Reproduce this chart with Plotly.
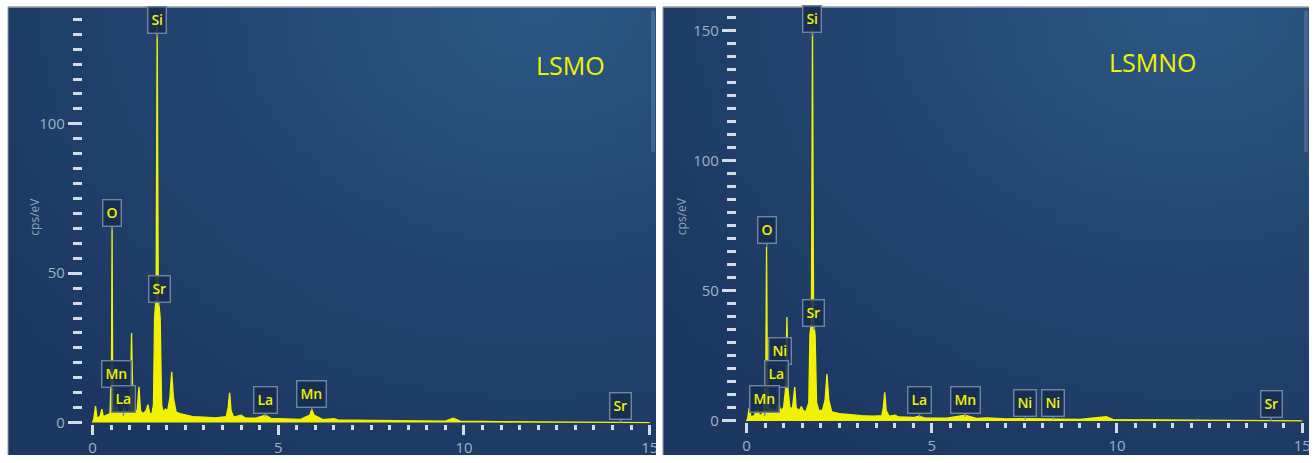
import base64, struct, zlib
import plotly.graph_objects as go

# ---------------- data ----------------
energy_lsmo = [0.00, 0.03, 0.08, 0.12, 0.20, 0.25, 0.29, 0.40, 0.47, 0.51, 0.525, 0.54, 0.58,
               0.64, 0.70, 0.78, 0.85, 0.92, 0.98, 1.02, 1.05, 1.08, 1.12, 1.20, 1.25, 1.29,
               1.36, 1.44, 1.49, 1.54, 1.60, 1.64, 1.67, 1.71, 1.74, 1.77, 1.82, 1.86, 1.90,
               1.96, 2.02, 2.08, 2.13, 2.18, 2.25, 2.35, 2.50, 2.70, 3.00, 3.30, 3.60, 3.65,
               3.69, 3.73, 3.80, 4.00, 4.10, 4.40, 4.65, 4.80, 5.20, 5.60, 5.85, 5.90, 5.96,
               6.20, 6.50, 6.60, 7.50, 8.60, 9.50, 9.71, 9.90, 11.0, 12.5, 14.0, 15.0]
counts_lsmo = [0.0, 1.0, 5.5, 1.5, 2.0, 4.5, 2.0, 2.5, 3.0, 20.0, 66.0, 20.0, 4.0,
               6.0, 3.5, 3.0, 5.0, 3.5, 4.0, 10.0, 30.0, 10.0, 4.0, 4.0, 12.0, 4.0,
               3.0, 4.0, 6.0, 3.0, 3.0, 6.0, 35.0, 42.0, 133.0, 42.0, 35.0, 6.0, 3.5,
               4.5, 4.0, 8.0, 17.0, 8.0, 3.5, 3.0, 2.5, 2.0, 1.8, 1.6, 2.0, 5.0,
               10.0, 4.0, 1.8, 2.5, 1.6, 1.5, 2.5, 1.4, 1.2, 1.1, 2.5, 4.5, 2.5,
               1.0, 1.3, 0.9, 0.7, 0.6, 0.5, 1.5, 0.5, 0.3, 0.2, 0.1, 0.0]

energy_lsmno = [0.00, 0.03, 0.07, 0.12, 0.20, 0.30, 0.35, 0.45, 0.52, 0.54, 0.56, 0.60, 0.66,
                0.72, 0.80, 0.86, 0.92, 1.00, 1.05, 1.09, 1.12, 1.17, 1.24, 1.30, 1.34, 1.42,
                1.48, 1.53, 1.60, 1.68, 1.71, 1.75, 1.78, 1.81, 1.85, 1.89, 1.95, 2.05, 2.12,
                2.17, 2.22, 2.30, 2.50, 2.80, 3.10, 3.40, 3.65, 3.69, 3.73, 3.77, 3.85, 4.02,
                4.10, 4.50, 4.65, 4.80, 5.40, 5.90, 6.20, 6.50, 7.00, 7.47, 8.26, 9.00, 9.71,
                9.90, 11.0, 12.5, 14.0, 15.0]
counts_lsmno = [0.0, 1.0, 5.0, 1.5, 2.0, 4.5, 2.0, 3.0, 20.0, 67.0, 20.0, 4.0, 5.0,
                4.0, 4.0, 7.0, 4.0, 5.0, 12.0, 40.0, 12.0, 5.0, 5.0, 13.0, 5.0, 4.0,
                5.5, 4.0, 3.5, 7.0, 33.0, 38.0, 151.0, 38.0, 33.0, 7.0, 4.0, 4.0, 8.0,
                18.0, 8.0, 3.5, 2.8, 2.3, 2.0, 1.8, 2.0, 5.0, 11.0, 4.0, 1.8, 2.2,
                1.5, 1.3, 1.8, 1.2, 1.1, 2.2, 1.0, 1.2, 0.8, 0.9, 0.7, 0.6, 1.6,
                0.5, 0.4, 0.2, 0.1, 0.0]

# element markers: name, energy (keV), value the marker points at (cps/eV)
labels_lsmo = ["Si", "O", "Sr", "Mn", "La", "La", "Mn", "Sr"]
label_e_lsmo = [1.74, 0.525, 1.80, 0.65, 0.83, 4.65, 5.90, 14.22]
label_v_lsmo = [129, 64.5, 39, 10.5, 2.3, 2.0, 4.0, 0.0]

labels_lsmno = ["Si", "O", "Sr", "Ni", "La", "Mn", "La", "Mn", "Ni", "Ni", "Sr"]
label_e_lsmno = [1.78, 0.55, 1.82, 0.89, 0.82, 0.49, 4.67, 5.90, 7.52, 8.28, 14.16]
label_v_lsmno = [148, 67, 35, 20.5, 11.5, 2.0, 1.6, 1.6, 0.5, 0.5, 0.0]

panel_titles = ["LSMO", "LSMNO"]
y_axis_title = "cps/eV"
x_ticks = [0, 5, 10, 15]
y_ticks_lsmo = [0, 50, 100]
y_ticks_lsmno = [0, 50, 100, 150]

# ---------------- style / layout ----------------
W, H = 1316, 463
YELLOW = "#f2f200"
TICKLBL = "#9fb1c7"
TICKCOL = "#d3dbe6"
BOXBG = "rgba(22,46,80,0.9)"
BOXLINE = "#6f86a2"
FONT = "Open Sans"


def px_x(p):
    return p / W


def px_y(p):
    return 1 - p / H


def gradient_png(w, h):
    dark = (28, 56, 98)
    bright = (43, 89, 132)
    rows = []
    for j in range(h):
        v = j / (h - 1)
        row = bytearray([0])
        for i in range(w):
            u = i / (w - 1)
            d = (((u - 0.82) / 1.05) ** 2 + ((v - 0.0) / 1.2) ** 2) ** 0.5
            t = max(0.0, min(1.0, 1 - d))
            t = t ** 1.3
            for c in range(3):
                row.append(int(round(dark[c] + (bright[c] - dark[c]) * t)))
        rows.append(bytes(row))
    raw = b"".join(rows)

    def chunk(tag, data):
        return (struct.pack(">I", len(data)) + tag + data +
                struct.pack(">I", zlib.crc32(tag + data) & 0xffffffff))

    png = (b"\x89PNG\r\n\x1a\n" +
           chunk(b"IHDR", struct.pack(">IIBBBBB", w, h, 8, 2, 0, 0, 0)) +
           chunk(b"IDAT", zlib.compress(raw, 9)) + chunk(b"IEND", b""))
    return "data:image/png;base64," + base64.b64encode(png).decode()


GRAD = gradient_png(96, 48)

panels = [
    dict(pl=8, pr=657, al=83, x0=92.7, kx=37.2, top=8, bot=431, y0=430.0, ky=3.04),
    dict(pl=664, pr=1311, al=738, x0=747.7, kx=37.1, top=8, bot=429.5, y0=428.3, ky=2.646),
]

fig = go.Figure()

series = [(energy_lsmo, counts_lsmo), (energy_lsmno, counts_lsmno)]
ytick_sets = [y_ticks_lsmo, y_ticks_lsmno]
label_sets = [(labels_lsmo, label_e_lsmo, label_v_lsmo),
              (labels_lsmno, label_e_lsmno, label_v_lsmno)]
title_pos = [(571, 47), (1201, 44)]
ytitle_x = [24, 682]

layout = dict(width=W, height=H, autosize=False, margin=dict(l=0, r=0, t=0, b=0),
              paper_bgcolor="white", plot_bgcolor="rgba(0,0,0,0)",
              showlegend=False, font=dict(family=FONT))
annotations, shapes, images = [], [], []

for k, p in enumerate(panels):
    sfx = "" if k == 0 else str(k + 1)
    xa, ya = "x" + sfx, "y" + sfx
    ex, cy = series[k]
    fig.add_trace(go.Scatter(x=ex, y=cy, mode="lines", fill="tozeroy",
                             line=dict(color=YELLOW, width=1.3),
                             fillcolor=YELLOW, xaxis=xa, yaxis=ya,
                             hoverinfo="skip"))
    xr = [(p["al"] - p["x0"]) / p["kx"], (p["pr"] - p["x0"]) / p["kx"]]
    yr = [(p["y0"] - p["bot"]) / p["ky"], (p["y0"] - p["top"]) / p["ky"]]
    layout["xaxis" + sfx] = dict(
        domain=[px_x(p["al"]), px_x(p["pr"])], range=xr, anchor=ya,
        showgrid=False, zeroline=False, showline=False,
        tickmode="array", tickvals=x_ticks, ticks="outside", ticklen=10,
        tickwidth=2.5, tickcolor=TICKCOL,
        tickfont=dict(size=15, color=TICKLBL, family=FONT),
        minor=dict(dtick=0.5, tick0=0, ticks="outside", ticklen=5, tickwidth=2.5,
                   tickcolor=TICKCOL, showgrid=False),
        fixedrange=True)
    layout["yaxis" + sfx] = dict(
        domain=[px_y(p["bot"]), px_y(p["top"])], range=yr, anchor=xa,
        showgrid=False, zeroline=False, showline=False,
        tickmode="array", tickvals=ytick_sets[k], ticks="outside", ticklen=14,
        tickwidth=3, tickcolor=TICKCOL,
        tickfont=dict(size=15, color=TICKLBL, family=FONT),
        minor=dict(dtick=5, tick0=0, ticks="outside", ticklen=9, tickwidth=3,
                   tickcolor=TICKCOL, showgrid=False),
        fixedrange=True)

    images.append(dict(source=GRAD, xref="paper", yref="paper",
                       x=px_x(p["pl"]), y=px_y(7), sizex=(p["pr"] - p["pl"]) / W,
                       sizey=(H - 7) / H, sizing="stretch", layer="below",
                       xanchor="left", yanchor="top"))
    shapes.append(dict(type="rect", xref="paper", yref="paper",
                       x0=px_x(p["pr"] - 5), x1=px_x(p["pr"] - 1),
                       y0=px_y(155), y1=px_y(11), fillcolor="rgba(120,150,185,0.35)",
                       line=dict(width=0), layer="above"))

    names, es, vs = label_sets[k]
    for n, e, v in zip(names, es, vs):
        annotations.append(dict(
            x=e, y=v, xref=xa, yref=ya, text=n, showarrow=True,
            arrowhead=0, arrowwidth=1.4, arrowcolor=BOXLINE, ax=0, ay=-17,
            axref="pixel", ayref="pixel", standoff=0,
            font=dict(size=14, color=YELLOW, family=FONT, weight=600),
            bgcolor=BOXBG, bordercolor=BOXLINE, borderwidth=1.4, borderpad=3))

    tx, ty = title_pos[k]
    annotations.append(dict(x=px_x(tx), y=px_y(ty), xref="paper", yref="paper",
                            text=panel_titles[k], showarrow=False,
                            font=dict(size=25, color=YELLOW, family=FONT)))
    annotations.append(dict(x=px_x(ytitle_x[k]), y=px_y(220), xref="paper", yref="paper",
                            text=y_axis_title, showarrow=False, textangle=-90,
                            font=dict(size=12, color="#8fa2ba", family=FONT)))

shapes.append(dict(type="rect", xref="paper", yref="paper", x0=px_x(657), x1=px_x(664),
                   y0=0, y1=1, fillcolor="white", line=dict(width=0), layer="above"))
shapes.append(dict(type="rect", xref="paper", yref="paper", x0=px_x(1311), x1=1,
                   y0=0, y1=1, fillcolor="white", line=dict(width=0), layer="above"))
for p in panels:
    shapes.append(dict(type="line", xref="paper", yref="paper", x0=px_x(p["pl"]),
                       x1=px_x(p["pr"]), y0=px_y(7), y1=px_y(7),
                       line=dict(color="#9aa2ab", width=1.5), layer="above"))
    shapes.append(dict(type="line", xref="paper", yref="paper", x0=px_x(p["pl"]),
                       x1=px_x(p["pl"]), y0=0, y1=px_y(7),
                       line=dict(color="#9aa2ab", width=1), layer="above"))

layout["annotations"] = annotations
layout["shapes"] = shapes
layout["images"] = images
fig.update_layout(**layout)

fig.write_html("out.html",
               config={"displayModeBar": False, "responsive": False},
               post_script="document.body.style.margin='0';document.body.style.overflow='hidden';")
